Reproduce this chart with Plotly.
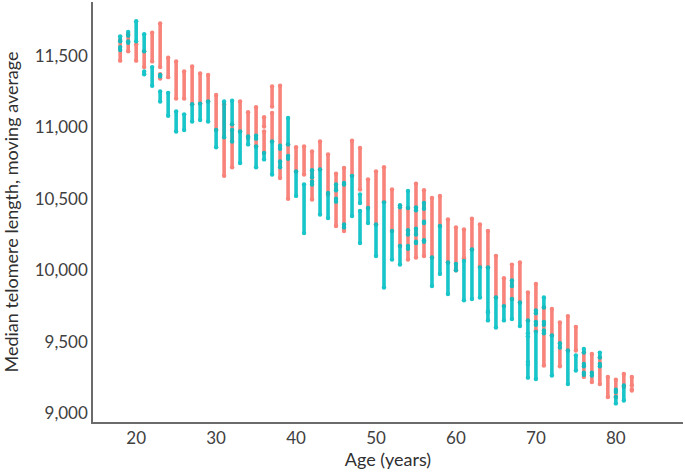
import plotly.graph_objects as go

# Age strips (integer years) and the value runs read for each colour group.
# Each run is [low, high] of median telomere length (moving average).
ages = list(range(18, 83))

salmon_runs = {
    18: [[11465, 11610]], 19: [[11530, 11650]], 20: [[11465, 11580]],
    21: [[11420, 11530]], 22: [[11460, 11660]], 23: [[11420, 11725], [11340, 11370]],
    24: [[11350, 11485]], 25: [[11200, 11460]], 26: [[11200, 11390]],
    27: [[11160, 11425]], 28: [[11165, 11375]], 29: [[11180, 11365]],
    30: [[10980, 11225]], 31: [[10660, 11160]], 32: [[10720, 11020]],
    33: [[10970, 11180]], 34: [[10925, 11105]], 35: [[10865, 11140]],
    36: [[11005, 11070], [10820, 10970]], 37: [[11145, 11285], [10900, 11100]],
    38: [[10645, 11290]], 39: [[10500, 10880]], 40: [[10690, 10860]],
    41: [[10670, 10865]], 42: [[10495, 10830]], 43: [[10705, 10900]],
    44: [[10530, 10810]], 45: [[10310, 10675]], 46: [[10275, 10715]],
    47: [[10660, 10905]], 48: [[10565, 10855]], 49: [[10435, 10635]],
    50: [[10320, 10690]], 51: [[10480, 10720]], 52: [[10275, 10565]],
    53: [[10170, 10450]], 54: [[10075, 10435]], 55: [[10090, 10605]],
    56: [[10100, 10560]], 57: [[10090, 10505]], 58: [[10310, 10520]],
    59: [[10055, 10355]], 60: [[10000, 10300]], 61: [[10085, 10285]],
    62: [[10145, 10360]], 63: [[10030, 10320]], 64: [[10020, 10275]],
    65: [[9810, 10100]], 66: [[9750, 9945]], 67: [[9800, 10040]],
    68: [[9775, 10055]], 69: [[9650, 9845]], 70: [[9580, 9905]],
    71: [[9335, 9740]], 72: [[9545, 9730]], 73: [[9330, 9635]],
    74: [[9440, 9680]], 75: [[9440, 9605]], 76: [[9255, 9425]],
    77: [[9220, 9415]], 78: [[9205, 9390]], 79: [[9115, 9255]],
    80: [[9115, 9235]], 81: [[9185, 9275]], 82: [[9195, 9255], [9160, 9170]],
}

teal_runs = {
    18: [[11600, 11635], [11540, 11560]], 19: [[11640, 11665], [11590, 11600]],
    20: [[11600, 11740]], 21: [[11530, 11650], [11370, 11390]],
    22: [[11290, 11420]], 23: [[11180, 11250], [11355, 11365]],
    24: [[11080, 11240]], 25: [[10970, 11110]], 26: [[10980, 11090]],
    27: [[11040, 11160]], 28: [[11050, 11165]], 29: [[11040, 11180]],
    30: [[10860, 10980]], 31: [[10930, 11180]], 32: [[11020, 11185], [10900, 10980]],
    33: [[10750, 10970]], 34: [[10880, 10935]], 35: [[10720, 10865], [10920, 10940]],
    36: [[10775, 10820]], 37: [[10670, 10900]], 38: [[10850, 10870], [10720, 10760]],
    39: [[10880, 11065], [10780, 10800]], 40: [[10520, 10690]],
    41: [[10260, 10600]], 42: [[10650, 10700], [10600, 10620]],
    43: [[10390, 10705]], 44: [[10365, 10540]], 45: [[10560, 10600], [10480, 10500]],
    46: [[10600, 10610], [10300, 10320]], 47: [[10380, 10660]],
    48: [[10470, 10530], [10190, 10415]], 49: [[10330, 10435]],
    50: [[10100, 10320]], 51: [[9880, 10475]], 52: [[10075, 10275]],
    53: [[10040, 10170], [10440, 10455]],
    54: [[10435, 10555], [10250, 10280], [10150, 10170]],
    55: [[10420, 10440], [10250, 10290], [10190, 10200]],
    56: [[10430, 10470], [10330, 10340], [10200, 10210]],
    57: [[9890, 10090]], 58: [[9975, 10310]], 59: [[9835, 10055]],
    60: [[10000, 10045]], 61: [[9790, 10065]], 62: [[9800, 10145]],
    63: [[9810, 10020]], 64: [[9715, 10020], [9650, 9705]],
    65: [[9600, 9810]], 66: [[9650, 9750]], 67: [[9660, 9800], [9890, 9930]],
    68: [[9610, 9775]], 69: [[9560, 9650], [9360, 9540], [9250, 9340]],
    70: [[9240, 9570], [9620, 9640], [9700, 9720]],
    71: [[9740, 9810], [9620, 9640], [9560, 9580]],
    72: [[9265, 9545]], 73: [[9460, 9490]], 74: [[9205, 9440]],
    75: [[9300, 9405]], 76: [[9425, 9450], [9330, 9345], [9270, 9285]],
    77: [[9265, 9285]], 78: [[9390, 9425], [9330, 9345]],
    80: [[9070, 9115], [9150, 9165]], 81: [[9090, 9195]],
}

x_ticks = [20, 30, 40, 50, 60, 70, 80]
y_ticks = [9000, 9500, 10000, 10500, 11000, 11500]

x_title = "Age (years)"
y_title = "Median telomere length, moving average"

SALMON = "#F8766D"
TEAL = "#00BFC4"


def build(runs):
    xs, ys = [], []
    for a in ages:
        for lo, hi in runs.get(a, []):
            xs += [a, a, None]
            ys += [lo, hi, None]
    return xs, ys


fig = go.Figure()
for name, runs, col in [("Group 1", salmon_runs, SALMON), ("Group 2", teal_runs, TEAL)]:
    xs, ys = build(runs)
    fig.add_trace(go.Scatter(
        x=xs, y=ys, mode="lines+markers", name=name,
        line=dict(color=col, width=3.6),
        marker=dict(color=col, size=4.4),
        opacity=0.9,
        connectgaps=False, showlegend=False, hoverinfo="skip",
    ))

font_family = "Lato, 'Open Sans', sans-serif"
fig.update_layout(
    width=685, height=473,
    margin=dict(l=93, r=2, t=2, b=51, autoexpand=False),
    paper_bgcolor="white", plot_bgcolor="white",
    font=dict(family=font_family, size=16, color="#404040"),
    xaxis=dict(
        range=[14.6, 88.4], tickvals=x_ticks, showgrid=False, zeroline=False,
        showline=True, linecolor="#6b6b6b", linewidth=1.5, ticks="",
        tickfont=dict(size=17, color="#404040"),
        title=dict(text=x_title, font=dict(size=18, color="#303030"), standoff=5),
        automargin=False,
    ),
    yaxis=dict(
        range=[8940, 11875], tickvals=y_ticks, tickformat=",d", showgrid=False,
        zeroline=False, showline=True, linecolor="#6b6b6b", linewidth=1.5, ticks="",
        tickfont=dict(size=17, color="#404040"),
        title=dict(text=y_title, font=dict(size=18, color="#303030"), standoff=12),
        automargin=False,
    ),
)

fig.write_html(
    "out.html",
    config={"displayModeBar": False},
    post_script="document.body.style.margin='0';document.body.style.overflow='hidden';",
)
